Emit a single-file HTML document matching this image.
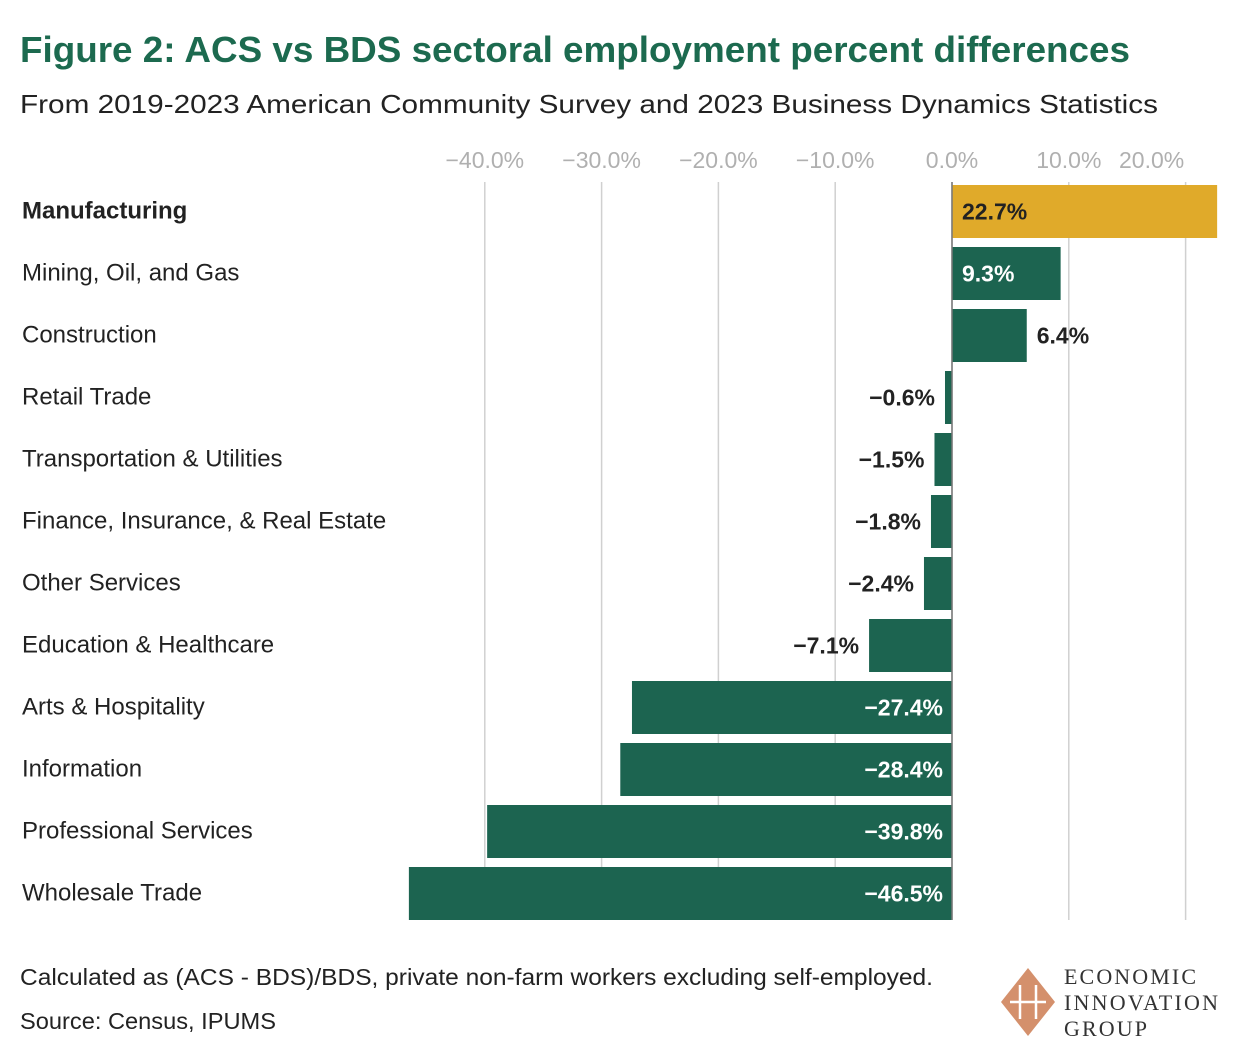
<!DOCTYPE html>
<html><head><meta charset="utf-8"><style>
body{margin:0;background:#fff;width:1240px;height:1058px;overflow:hidden;font-family:"Liberation Sans","DejaVu Sans",sans-serif;}
svg{display:block}
</style></head><body>
<svg id="chart" width="1240" height="1058">
<text x="20" y="62" font-size="36" font-weight="bold" fill="#1c6a4f" textLength="1110" lengthAdjust="spacingAndGlyphs">Figure 2: ACS vs BDS sectoral employment percent differences</text>
<text x="20" y="113" font-size="26" fill="#222" textLength="1138" lengthAdjust="spacingAndGlyphs">From 2019-2023 American Community Survey and 2023 Business Dynamics Statistics</text>
<g id="grid"></g><g id="bars"></g><g id="labels"></g>
<text x="20" y="985" font-size="23" fill="#222" textLength="913" lengthAdjust="spacingAndGlyphs">Calculated as (ACS - BDS)/BDS, private non-farm workers excluding self-employed.</text>
<text x="20" y="1029" font-size="23" fill="#222" textLength="256" lengthAdjust="spacingAndGlyphs">Source: Census, IPUMS</text>
<g>
<polygon points="1028,968 1055,1002 1028,1036 1001,1002" fill="#d4906c"/>
<path d="M1020,985 v34 M1036,985 v34 M1010,1002 h36" stroke="#fff" stroke-width="2.5" fill="none"/>
<text x="1064" y="984" font-family="Liberation Serif,serif" font-size="22" fill="#333" letter-spacing="1" textLength="133">ECONOMIC</text>
<text x="1064" y="1010" font-family="Liberation Serif,serif" font-size="22" fill="#333" letter-spacing="1" textLength="155">INNOVATION</text>
<text x="1064" y="1036" font-family="Liberation Serif,serif" font-size="22" fill="#333" letter-spacing="1" textLength="84">GROUP</text>
</g>
</svg>
<script>
const categories=["Manufacturing","Mining, Oil, and Gas","Construction","Retail Trade","Transportation & Utilities","Finance, Insurance, & Real Estate","Other Services","Education & Healthcare","Arts & Hospitality","Information","Professional Services","Wholesale Trade"];
const values=[22.7,9.3,6.4,-0.6,-1.5,-1.8,-2.4,-7.1,-27.4,-28.4,-39.8,-46.5];
const ticks=[-40,-30,-20,-10,0,10,20];
const NS="http://www.w3.org/2000/svg";
const x=v=>952+v*11.68;
const yTop=i=>185+i*62;
const bh=53;
function el(t,a,p){const e=document.createElementNS(NS,t);for(const k in a)e.setAttribute(k,a[k]);document.getElementById(p).appendChild(e);return e;}
const fmt=v=>(v<0?"\u2212":"")+Math.abs(v).toFixed(1)+"%";
ticks.forEach(t=>{
 const l=el("line",{x1:x(t),x2:x(t),y1:182,y2:920,stroke:"#d0d0d0","stroke-width":1.5},"grid");
 
 
 const tx=el("text",{x:t==20?x(t)-34:x(t),y:168,"text-anchor":"middle","font-size":23,fill:"#b0b0b0"},"grid");
 tx.textContent=fmt(t);
 
 
});
values.forEach((v,i)=>{
 const y0=yTop(i),x0=Math.min(x(0),x(v)),w=Math.abs(x(v)-x(0));
 const r=el("rect",{x:x0,y:y0,width:w,height:bh,fill:i==0?"#e0aa2a":"#1c6450"},"bars");
 
 
 const c=el("text",{x:22,y:y0+bh/2+7,"font-size":24,fill:"#222","font-weight":i==0?"bold":"normal"},"labels");
 c.textContent=categories[i];
 
 
 const big=w>90;
 let lx,anchor,fill;
 if(v>=0){ if(big){lx=x(0)+10;anchor="start";fill=i==0?"#222":"#fff";}else{lx=x(v)+10;anchor="start";fill="#222";} }
 else { if(big){lx=x(0)-9;anchor="end";fill="#fff";}else{lx=x(v)-10;anchor="end";fill="#222";} }
 const vt=el("text",{x:lx,y:y0+bh/2+8,"font-size":23,"font-weight":"bold","text-anchor":anchor,fill:fill},"labels");
 vt.textContent=fmt(v);
 
 
});
const ax=el("line",{x1:x(0),x2:x(0),y1:182,y2:920,stroke:"#777","stroke-width":1.5},"bars");


</script>
</body></html>
